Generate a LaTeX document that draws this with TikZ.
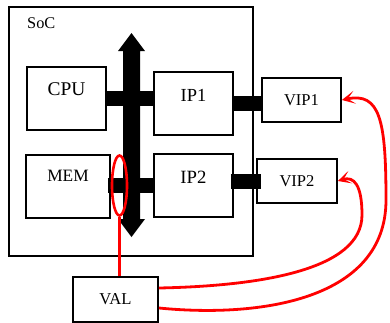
\documentclass[tikz,border=0pt]{standalone}
\usepackage{fontspec}
\setmainfont{Liberation Serif}
\usetikzlibrary{arrows.meta,shapes.geometric}
\begin{document}
\begin{tikzpicture}[x=1bp,y=-1bp,
  box/.style={draw,line width=1.8bp,fill=white,inner sep=0pt},
  bar/.style={line width=15bp},
  probe/.style={draw=red,line width=2.6bp,ellipse,inner sep=0pt},
  probeline/.style={red,line width=2.6bp},
  link/.style={red,line width=2.8bp,-{Stealth[length=13bp,width=13bp,inset=7bp]}},
]
\useasboundingbox (0,0) rectangle (390,323);
% SoC
\node[box, minimum width=244bp, minimum height=249bp] (soc) at (131,131.5) {};
\node[anchor=west, inner sep=0pt, font=\fontsize{16.4}{18}\selectfont] (soclabel) at (27,23) {SoC};
% blocks
\node[box, minimum width=79bp, minimum height=63bp, text depth=19bp, font=\fontsize{19.5}{21}\selectfont] (cpu) at (66.5,98.5) {CPU};
\node[box, minimum width=79bp, minimum height=63bp, text depth=17bp, font=\fontsize{18.5}{21}\selectfont] (ip1) at (193.5,103.5) {IP1};
\node[box, minimum width=84bp, minimum height=63bp, text depth=21bp, font=\fontsize{17.4}{20}\selectfont] (mem) at (68,186.5) {MEM};
\node[box, minimum width=79bp, minimum height=63bp, text depth=17bp, font=\fontsize{18.8}{21}\selectfont] (ip2) at (193.5,185.5) {IP2};
\node[box, minimum width=79bp, minimum height=44bp, font=\fontsize{16.6}{19}\selectfont] (vip1) at (301.5,100) {VIP1};
\node[box, minimum width=80bp, minimum height=44bp, font=\fontsize{16.6}{19}\selectfont] (vip2) at (297,181) {VIP2};
\node[box, minimum width=85bp, minimum height=45bp, font=\fontsize{16.7}{19}\selectfont] (val) at (115.5,299.5) {VAL};
% bars
\draw[bar, shorten <=-2bp, shorten >=-2bp] (cpu.east) -- (ip1.west |- cpu.east);
\draw[bar, shorten <=-3bp, shorten >=-2bp] (mem.east |- ip2.west) -- (ip2.west);
\draw[bar, shorten <=-1bp, shorten >=-1bp] (ip1.east) -- (vip1.west |- ip1.east);
\draw[bar, shorten <=-3bp, shorten >=-5bp] (ip2.east |- vip2.west) -- (vip2.west);
% bus
\fill (131.5,33) -- (145,51) -- (140,51) -- (140,219) -- (145,219) -- (131.5,237)
  -- (118,219) -- (123,219) -- (123,51) -- (118,51) -- cycle;
% probe
\node[probe, minimum width=15bp, minimum height=60bp] (pr) at (119.5,185.5) {};
\draw[probeline] (pr.south) -- (pr.south |- val.north);
% links
\draw[link] ([yshift=11.5bp]val.east) .. controls (260,286) and (362,270) .. (362,215)
  .. controls (362,185) and (354,176) .. (vip2.east);
\draw[link] ([yshift=-8.5bp]val.east) .. controls (260,318) and (386,300) .. (386,200)
  .. controls (386,120) and (380,92) .. (vip1.east);
\end{tikzpicture}
\end{document}
